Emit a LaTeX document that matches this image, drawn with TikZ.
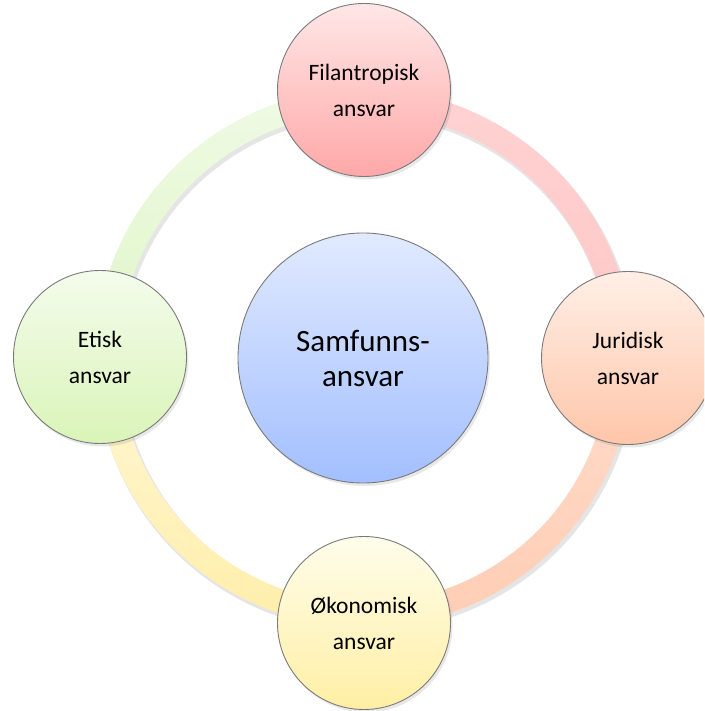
\documentclass[tikz,border=0pt]{standalone}
\usepackage{fontspec}
\setmainfont{Carlito}
\usetikzlibrary{shadows}
\definecolor{bordc}{HTML}{7A7A7A}
\definecolor{rpkA}{HTML}{FFD2D2}\definecolor{rpkB}{HTML}{FFC6C6}
\definecolor{rpcA}{HTML}{FFDCCB}\definecolor{rpcB}{HTML}{FFCDB4}
\definecolor{rylA}{HTML}{FFF7D4}\definecolor{rylB}{HTML}{FFEEAA}
\definecolor{rgrA}{HTML}{EFFAE4}\definecolor{rgrB}{HTML}{E0F6C8}
\definecolor{cblA}{HTML}{E1EAFF}\definecolor{cblB}{HTML}{A2BFFF}
\definecolor{cpkA}{HTML}{FFE7E7}\definecolor{cpkB}{HTML}{FFA8A8}
\definecolor{cpcA}{HTML}{FFEFE6}\definecolor{cpcB}{HTML}{FFC6AA}
\definecolor{cylA}{HTML}{FFFDEB}\definecolor{cylB}{HTML}{FFEFA4}
\definecolor{cgrA}{HTML}{F4FCEC}\definecolor{cgrB}{HTML}{DAF4B8}
\begin{document}
\begin{tikzpicture}[x=1pt,y=1pt,
  circ/.style={circle, draw=bordc, line width=0.9pt, inner sep=0pt,
    align=center, text=black,
    drop shadow={opacity=0.18, shadow xshift=2pt, shadow yshift=-3pt}},
  smallc/.style={circ, minimum size=173pt, font=\fontsize{23.5}{36}\selectfont},
  bigc/.style={circ, minimum size=250pt, font=\fontsize{31}{35}\selectfont}
]
\useasboundingbox (0,0) rectangle (704,711);
\clip (0,0) rectangle (704,711);
\fill[white] (0,0) rectangle (704,711);
% ring shadow
\begin{scope}[shift={(366,350)}]
  \fill[black, opacity=0.10, even odd rule] (0,0) circle[radius=270] (0,0) circle[radius=244];
\end{scope}
% ring quarters
\begin{scope}[shift={(364,353)}]
  \shade[top color=rpkA, bottom color=rpkB]
    (90:269) arc[start angle=90, end angle=0, radius=269] -- (0:245)
    arc[start angle=0, end angle=90, radius=245] -- cycle;
  \shade[top color=rpcA, bottom color=rpcB]
    (0:269) arc[start angle=0, end angle=-90, radius=269] -- (-90:245)
    arc[start angle=-90, end angle=0, radius=245] -- cycle;
  \shade[top color=rylA, bottom color=rylB]
    (-90:269) arc[start angle=-90, end angle=-180, radius=269] -- (180:245)
    arc[start angle=180, end angle=270, radius=245] -- cycle;
  \shade[top color=rgrA, bottom color=rgrB]
    (180:269) arc[start angle=180, end angle=90, radius=269] -- (90:245)
    arc[start angle=90, end angle=180, radius=245] -- cycle;
\end{scope}
% circles
\node[bigc, top color=cblA, bottom color=cblB] (center) at (363,353) {Samfunns-\\ansvar};
\node[smallc, top color=cpkA, bottom color=cpkB] (top) at (364,621) {Filantropisk\\ansvar};
\node[smallc, top color=cpcA, bottom color=cpcB] (right) at (628,353) {Juridisk\\ansvar};
\node[smallc, top color=cylA, bottom color=cylB] (bottom) at (364,88) {Økonomisk\\ansvar};
\node[smallc, top color=cgrA, bottom color=cgrB] (left) at (100,354) {Etisk\\ansvar};
\end{tikzpicture}
\end{document}
